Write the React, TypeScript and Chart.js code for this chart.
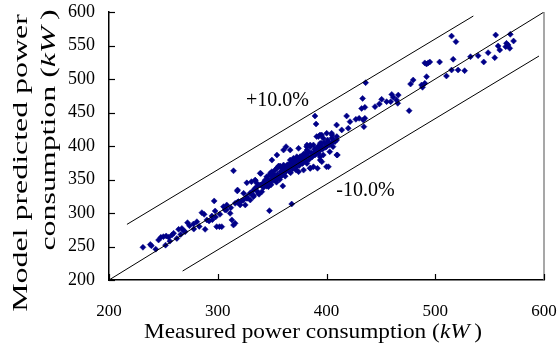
import React, { useEffect, useRef } from "react";
import { Chart, registerables } from "chart.js";

Chart.register(...registerables);

// Measured (x) and model predicted (y) power consumption, kW
const measured: number[] = [
  231.2, 238, 239, 245.6, 247.7, 250, 252.6, 254.8, 257.8, 259.4, 262.4, 264, 267, 268.6,
  272.2, 274, 277.7, 280.8, 285.4, 287.5, 288.4, 290, 294.6, 296.7, 297.6, 299, 301.6, 303.7,
  305.3, 306.8, 308.3, 313, 314.5, 316, 311.4, 314.5, 316, 319, 320.6, 318, 323.6, 326.7,
  326.7, 329.8, 332.8, 334.4, 331, 334.4, 336, 339, 340.5, 339.6, 342, 343.5, 345, 345, 348,
  346.6, 347.5, 349.7, 351, 352.7, 354.2, 355.8, 351, 354.2, 359.8, 357.3, 358.8, 361.9,
  363.4, 357.3, 362.8, 365, 366.5, 368, 369.5, 371, 372.6, 368, 371, 368, 374, 375.7, 377.2,
  378.7, 380.3, 381.8, 375.7, 380.3, 385, 388, 381.8, 385, 383.3, 386.4, 388, 389.4, 391,
  389.4, 390.4, 391, 394, 397, 392.5, 395.6, 397, 400, 401.7, 394, 397, 400, 403, 404.7, 406,
  407.8, 409.3, 410, 404.7, 409.3, 414, 418.5, 421.6, 420, 427, 430, 433.8, 435.3, 434.4,
  433.2, 432.3, 435.3, 436, 444.6, 448.6, 450.7, 455.3, 460, 459, 464.4, 461.4, 466, 465.5,
  476, 477.3, 479.7, 487.4, 488.3, 490.4, 492, 490.4, 492, 493.5, 495, 504, 510.3, 515, 516.5,
  521, 527, 515, 519, 532.4, 539.4, 544.6, 548.6, 554.7, 557.8, 559.3, 555.6, 564.8, 567,
  568.5, 565.5, 569, 572,
  340, 342, 344, 346, 348, 350, 352, 353, 355, 356, 358, 359, 360, 361, 362, 363, 364, 365,
  366, 367, 368, 369, 370, 371, 372, 373, 374, 375, 376, 377, 378, 379, 380, 381, 382, 383,
  384, 386, 387, 389, 390, 392, 393, 395, 396, 398, 399, 401, 403, 405, 345, 349, 354, 357,
  362, 367, 372, 330, 333, 336, 338, 327, 322, 318, 312, 308, 302, 298, 295, 292, 283, 278,
  270, 266, 256, 252, 243, 382, 392.7, 400.4, 385, 391.7, 394.2, 355.9, 318.2,
  339, 334.5, 336, 348.3, 351.3, 357.4, 360.5, 366.6, 369.6, 372.7, 382, 385, 388, 392.6,
  395.6, 400.2, 405, 409.5, 394.2, 401.8, 406.4, 409.5, 401.8, 395.7, 392.6, 382, 378.9,
  374.3, 368.2, 363.6, 357.4, 352.8, 348.2, 342.1, 337.5, 332.9, 329.9, 323.8, 326.8, 325.3,
  354.4, 349.8, 360.5, 366.6, 374.3, 377.4,
];
const predicted: number[] = [
  248.8, 253, 251, 259.7, 263.7, 264.7, 265.7, 263.7, 267, 269.7, 262, 275.6, 277, 273.6,
  285.6, 281, 283.6, 287, 300.5, 298, 275.6, 289.6, 295.5, 318, 303, 279.6, 279.6, 279.6,
  309.5, 304.5, 312, 289.6, 282, 284.6, 299.5, 363, 314.4, 317, 312, 333, 319.4, 324.4,
  345, 329, 334, 336.8, 346.8, 349, 339.3, 341.8, 331.8, 359, 345, 349, 346.8, 354, 356.7,
  339.3, 303.5, 361.7, 359, 364, 366.7, 369, 349, 351.7, 340.3, 354, 359, 361.7,
  364, 370, 399, 369, 371.6, 374, 376.6, 374, 379, 369, 366.7, 313.4, 380, 384, 381.6,
  386.6, 384, 389, 374, 379, 366.7, 369, 399, 401.5, 391.5, 384, 389, 386.6, 394,
  444.8, 432.8, 414, 416.4, 411.4, 399, 404, 396.5, 399, 406.5, 384, 386.6, 369, 391.5, 404, 399,
  406.5, 409, 386.6, 419, 431.3, 424, 444.8, 436.3, 426.4, 439.8, 441.3, 438.8, 441.3, 428.9,
  471, 456, 457.7, 494.5, 458.7, 462.7, 469.7, 466.2, 477, 466.2, 468.7, 472.6, 476, 463.7,
  452.7, 492.5, 498.5, 491, 487.6, 493.5, 503.5, 524, 522.4, 524, 525.4, 525.4, 504.5, 513.4, 529.4,
  513.4, 512.4, 564, 555.7, 533.3, 534.8, 525.4, 539.3, 531.8, 549.3, 543.3, 565.7, 548.3, 550.7,
  545.8, 553.2, 566.7, 556.7,
  342, 338, 344, 350, 347, 352, 355, 349, 358, 353, 362, 356, 366, 359, 368, 363, 372, 366,
  362, 375, 370, 366, 378, 372, 368, 381, 376, 371, 384, 379, 374, 388, 382, 377, 392, 386,
  380, 390, 384, 395, 388, 398, 392, 400, 395, 405, 398, 409, 402, 412, 340, 342, 346, 350,
  355, 360, 364, 330, 326, 333, 328, 322, 318, 316, 308, 305, 298, 294, 290, 288, 280, 276,
  272, 268, 258, 252, 246, 401.5, 399, 401.5, 366.7, 366.7, 379, 370, 334.3,
  359.3, 349, 344.3, 359.3, 354.2, 369, 371.6, 379, 381.6, 384, 394, 399, 401.5, 414,
  416.4, 419, 416.4, 414, 404, 404, 409, 386.6, 369, 376.6, 389, 374, 364,
  361.6, 369, 364, 354.2, 349.3, 344.3, 339.3, 329.4, 324.4, 319.4, 329.4, 322, 312,
  386.6, 379, 394, 394, 396.5, 376.6,
];

const xTicksMin = 200;
const xTicksMax = 600;
const xStep = 100;
const yTicksMin = 200;
const yTicksMax = 600;
const yStep = 50;

// Reference lines (measured, predicted)
const diagonalX = [200, 600];
const diagonalY = [200, 600];
const upperX = [216.5, 535];
const upperY = [283, 594];
const lowerX = [267.7, 595.4];
const lowerY = [213.4, 534.3];

const upperLabel = "+10.0%";
const lowerLabel = "-10.0%";
const upperLabelPos = { x: 326, y: 460 };
const lowerLabelPos = { x: 409, y: 325 };

const FONT = "'Liberation Serif', 'Times New Roman', serif";

function drawMixed(
  ctx: CanvasRenderingContext2D,
  parts: { t: string; it: boolean }[],
  cx: number,
  y: number,
  size: number,
  stretch: number
) {
  const fonts = parts.map((p) => `${p.it ? "italic " : ""}${size}px ${FONT}`);
  let total = 0;
  const widths = parts.map((p, i) => {
    ctx.font = fonts[i];
    const w = ctx.measureText(p.t).width;
    total += w;
    return w;
  });
  ctx.save();
  ctx.translate(cx, y);
  ctx.scale(stretch, 1);
  let x = -total / 2;
  ctx.textAlign = "left";
  ctx.textBaseline = "alphabetic";
  parts.forEach((p, i) => {
    ctx.font = fonts[i];
    ctx.fillText(p.t, x, 0);
    x += widths[i];
  });
  ctx.restore();
}

const decorPlugin = {
  id: "decor",
  afterDraw(chart: any) {
    const ctx: CanvasRenderingContext2D = chart.ctx;
    const xs = chart.scales.x;
    const ys = chart.scales.y;
    const { left, right, top, bottom } = chart.chartArea;
    ctx.save();
    // right border
    ctx.strokeStyle = "#8a8a8a";
    ctx.lineWidth = 1.5;
    ctx.beginPath();
    ctx.moveTo(right, top);
    ctx.lineTo(right, bottom);
    ctx.stroke();
    // inner tick marks
    ctx.strokeStyle = "#000";
    ctx.lineWidth = 1.2;
    ys.ticks.forEach((t: any) => {
      const py = Math.round(ys.getPixelForValue(t.value)) + 0.5;
      ctx.beginPath();
      ctx.moveTo(left, py);
      ctx.lineTo(left + 6, py);
      ctx.stroke();
    });
    xs.ticks.forEach((t: any) => {
      const px = Math.round(xs.getPixelForValue(t.value)) + 0.5;
      ctx.beginPath();
      ctx.moveTo(px, bottom);
      ctx.lineTo(px, bottom - 6);
      ctx.stroke();
    });
    // percentage labels
    ctx.fillStyle = "#000";
    ctx.font = `20px ${FONT}`;
    ctx.textAlign = "left";
    ctx.textBaseline = "alphabetic";
    ctx.fillText(upperLabel, xs.getPixelForValue(upperLabelPos.x), ys.getPixelForValue(upperLabelPos.y));
    ctx.fillText(lowerLabel, xs.getPixelForValue(lowerLabelPos.x), ys.getPixelForValue(lowerLabelPos.y));
    // axis titles
    drawMixed(ctx, [
      { t: "Measured power consumption (", it: false },
      { t: "kW", it: true },
      { t: "\u2009)", it: false },
    ], 313, 338, 22, 1.06);
    ctx.save();
    ctx.translate(27, 163);
    ctx.rotate(-Math.PI / 2);
    drawMixed(ctx, [{ t: "Model predicted power", it: false }], 0, 0, 22, 1.45);
    ctx.restore();
    ctx.save();
    ctx.translate(55, 130);
    ctx.rotate(-Math.PI / 2);
    drawMixed(ctx, [
      { t: "consumption (", it: false },
      { t: "kW", it: true },
      { t: "\u2009)", it: false },
    ], 0, 0, 22, 1.45);
    ctx.restore();
    ctx.restore();
  },
};

export default function App() {
  const ref = useRef<HTMLCanvasElement | null>(null);
  useEffect(() => {
    document.body.style.margin = "0";
    if (!ref.current) return;
    const pts = measured.map((m, i) => ({ x: m, y: predicted[i] }));
    const line = (xa: number[], ya: number[]) => xa.map((x, i) => ({ x, y: ya[i] }));
    const lineStyle = {
      type: "scatter" as const,
      showLine: true,
      borderColor: "#000",
      borderWidth: 1,
      pointRadius: 0,
      order: 0,
    };
    const chart = new Chart(ref.current, {
      type: "scatter",
      data: {
        datasets: [
          { ...lineStyle, data: line(diagonalX, diagonalY) },
          { ...lineStyle, data: line(upperX, upperY) },
          { ...lineStyle, data: line(lowerX, lowerY) },
          {
            data: pts,
            pointStyle: "rectRot",
            pointRadius: 3,
            borderWidth: 0.5,
            backgroundColor: "#000088",
            borderColor: "#000088",
            order: 1,
          },
        ],
      },
      options: {
        animation: false,
        responsive: false,
        layout: { padding: { left: 0, top: 12, right: 16, bottom: 0 } },
        plugins: { legend: { display: false }, tooltip: { enabled: false } },
        scales: {
          x: {
            type: "linear",
            min: xTicksMin,
            max: xTicksMax,
            grid: { display: false, drawTicks: false },
            border: { display: true, color: "#000", width: 1.5 },
            ticks: { stepSize: xStep, color: "#000", padding: 21, font: { family: FONT, size: 17 } },
            afterFit: (s: any) => { s.height = 82; s.paddingLeft = 0; s.paddingRight = 0; },
          },
          y: {
            type: "linear",
            min: yTicksMin,
            max: yTicksMax,
            grid: { display: false, drawTicks: false },
            border: { display: true, color: "#000", width: 1.5 },
            ticks: { stepSize: yStep, color: "#000", padding: 14, font: { family: FONT, size: 18 } },
            afterFit: (s: any) => { s.width = 109; s.paddingTop = 0; s.paddingBottom = 0; },
          },
        },
      },
      plugins: [decorPlugin],
    });
    return () => chart.destroy();
  }, []);
  return (
    <div style={{ width: 560, height: 362 }}>
      <canvas ref={ref} width={560} height={362} />
    </div>
  );
}
